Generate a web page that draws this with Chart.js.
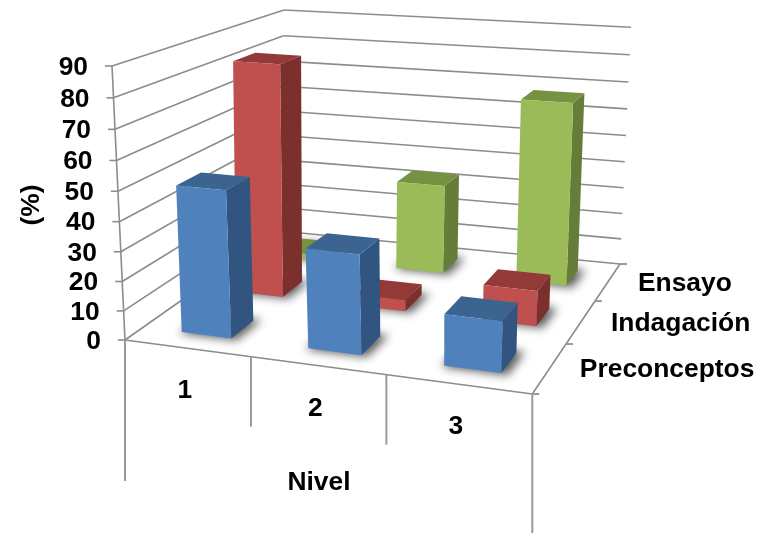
<!DOCTYPE html>
<html>
<head>
<meta charset="utf-8">
<title>Nivel por actividad</title>
<script src="https://cdn.jsdelivr.net/npm/chart.js@4/dist/chart.umd.js"></script>
<style>
  html, body { margin: 0; padding: 0; background: #fff; }
  canvas { display: block; }
</style>
</head>
<body>
<canvas id="chart" width="757" height="533"></canvas>
<script>
// Datos del gráfico
const niveles = ['1', '2', '3'];
const actividades = ['Preconceptos', 'Indagación', 'Ensayo'];
const preconceptos = [50, 33.5, 17];
const indagacion = [83, 4, 12.5];
const ensayo = [2, 33.5, 67.5];
const ticksValor = [0, 10, 20, 30, 40, 50, 60, 70, 80, 90];

// Colores por serie: frente, tapa, lado
const coloresSerie = [
    { frente: '#4f81bd', tapa: '#3c6491', lado: '#315480' },
    { frente: '#c0504d', tapa: '#933a38', lado: '#7b302e' },
    { frente: '#9bbb59', tapa: '#76913f', lado: '#667d3a' }
];

// Esquinas de la caja 3D: frente-izq, frente-der, fondo-der, fondo-izq
const esquinasPiso = [[125, 340], [532.3, 394], [620, 264], [280, 231]];
const esquinasTecho = [[112, 66], [541, 99], [631, 27.3], [284, 10]];
const fraccionBarra = 0.40;
const fraccionFondo = 0.41;
const corrimientoU = 0.006;

// Mapa de perspectiva del cuadrado unidad a un cuadrilátero
function mapaCuad(q) {
    const [[x0, y0], [x1, y1], [x2, y2], [x3, y3]] = q;
    const sx = x0 - x1 + x2 - x3, sy = y0 - y1 + y2 - y3;
    const dx1 = x1 - x2, dx2 = x3 - x2, dy1 = y1 - y2, dy2 = y3 - y2;
    const den = dx1 * dy2 - dx2 * dy1;
    const g = (sx * dy2 - dx2 * sy) / den;
    const h = (dx1 * sy - sx * dy1) / den;
    const a = x1 - x0 + g * x1, b = x3 - x0 + h * x3;
    const d = y1 - y0 + g * y1, e = y3 - y0 + h * y3;
    return (u, w) => {
        const k = g * u + h * w + 1;
        return [(a * u + b * w + x0) / k, (d * u + e * w + y0) / k];
    };
}

const piso = mapaCuad(esquinasPiso);
const techo = mapaCuad(esquinasTecho);

// u: a lo ancho, t: altura, w: profundidad (todas de 0 a 1)
function proyectar(u, t, w) {
    const p = piso(u, w), c = techo(u, w);
    const s = 0.95 * t / (1 - 0.05 * t);
    return [p[0] + (c[0] - p[0]) * s, p[1] + (c[1] - p[1]) * s];
}

function fraccion(scale, valor) {
    return scale.getDecimalForPixel(scale.getPixelForValue(valor));
}

function poligono(ctx, puntos, color) {
    ctx.beginPath();
    puntos.forEach((p, i) => i ? ctx.lineTo(p[0], p[1]) : ctx.moveTo(p[0], p[1]));
    ctx.closePath();
    ctx.fillStyle = color;
    ctx.fill();
}

function linea(ctx, a, b) {
    ctx.beginPath();
    ctx.moveTo(a[0], a[1]);
    ctx.lineTo(b[0], b[1]);
    ctx.stroke();
}

// Controlador de barras que dibuja cada valor como un prisma
class Barra3D extends Chart.BarController {
    draw() {
        const ctx = this.chart.ctx;
        const { x, y, z } = this.chart.scales;
        const indice = this.index;
        const colores = coloresSerie[indice];
        const wc = fraccion(z, actividades[indice]);
        const medioU = fraccionBarra / niveles.length / 2;
        const medioW = fraccionFondo / actividades.length / 2;

        for (let i = niveles.length - 1; i >= 0; i--) {
            const uc = fraccion(x, i) + corrimientoU;
            const t = fraccion(y, this.getParsed(i).y);
            const u0 = uc - medioU, u1 = uc + medioU;
            const w0 = wc - medioW, w1 = wc + medioW;

            // sombra difusa sobre el piso: la base queda fuera del lienzo y solo se ve su sombra
            const m = 0.01;
            const fuera = 2000;
            ctx.save();
            ctx.shadowColor = 'rgba(0,0,0,0.65)';
            ctx.shadowBlur = 10;
            ctx.shadowOffsetX = fuera + 3;
            ctx.translate(-fuera, 0);
            poligono(ctx, [proyectar(u0 - m, 0, w0 - m), proyectar(u1 + m, 0, w0 - m), proyectar(u1 + m, 0, w1 + m), proyectar(u0 - m, 0, w1 + m)], '#000');
            ctx.restore();

            poligono(ctx, [proyectar(u1, 0, w0), proyectar(u1, 0, w1), proyectar(u1, t, w1), proyectar(u1, t, w0)], colores.lado);
            poligono(ctx, [proyectar(u0, t, w0), proyectar(u1, t, w0), proyectar(u1, t, w1), proyectar(u0, t, w1)], colores.tapa);
            poligono(ctx, [proyectar(u0, 0, w0), proyectar(u1, 0, w0), proyectar(u1, t, w0), proyectar(u0, t, w0)], colores.frente);
        }
    }
}
Barra3D.id = 'barra3d';
Barra3D.defaults = Chart.BarController.defaults;
Barra3D.overrides = Chart.BarController.overrides;
Chart.register(Barra3D);

// Paredes, piso y ejes, por debajo de las barras
const cajaPlugin = {
    id: 'caja',
    beforeDatasetsDraw(chart) {
        const ctx = chart.ctx;
        const { y } = chart.scales;
        ctx.save();
        ctx.strokeStyle = '#8c8c8c';
        ctx.lineWidth = 1.6;

        ticksValor.forEach(v => {
            const t = fraccion(y, v);
            const izq = proyectar(0, t, 0);
            const fondoIzq = proyectar(0, t, 1);
            linea(ctx, izq, fondoIzq);
            linea(ctx, fondoIzq, proyectar(1, t, 1));
            linea(ctx, izq, [izq[0] - 7, izq[1]]);
        });

        // eje vertical y bordes del piso
        linea(ctx, proyectar(0, 0, 0), proyectar(0, 1, 0));
        linea(ctx, proyectar(0, 0, 0), proyectar(1, 0, 0));
        linea(ctx, proyectar(1, 0, 0), proyectar(1, 0, 1));

        ctx.strokeStyle = '#9a9a9a';
        ctx.lineWidth = 2;
        // divisiones entre niveles, bajo el borde frontal
        const frontera = [0, 1 / 3, 2 / 3, 1];
        const largo = [141, 70, 70, 141];
        frontera.forEach((u, i) => {
            const p = proyectar(u, 0, 0);
            linea(ctx, p, [p[0], p[1] + largo[i]]);
        });

        // marcas del eje de profundidad
        [0, 1 / 3, 2 / 3, 1].forEach(w => {
            const p = proyectar(1, 0, w);
            linea(ctx, p, [p[0] + 7, p[1]]);
        });
        ctx.restore();
    },
    afterDraw(chart) {
        const ctx = chart.ctx;
        const { x, y, z } = chart.scales;
        ctx.save();
        ctx.fillStyle = '#000';
        ctx.font = 'bold 26.4px "Liberation Sans", Arial, sans-serif';
        ctx.textBaseline = 'middle';

        // valores del eje vertical
        ctx.textAlign = 'right';
        ticksValor.forEach(v => {
            const p = proyectar(0, fraccion(y, v), 0);
            ctx.fillText(String(v), p[0] - 24, p[1] + 1.5);
        });

        // niveles
        ctx.textAlign = 'center';
        niveles.forEach((n, i) => {
            const p = proyectar(fraccion(x, i), 0, 0);
            ctx.fillText(n, p[0] - 2, p[1] + 43);
        });

        // actividades
        ctx.textAlign = 'left';
        actividades.forEach(a => {
            const p = proyectar(1, 0, fraccion(z, a));
            ctx.fillText(a, p[0] + 30, p[1] + 2);
        });

        // títulos de los ejes
        ctx.textAlign = 'center';
        ctx.fillText('Nivel', 319, 483);
        ctx.translate(30, 205);
        ctx.rotate(-Math.PI / 2);
        ctx.fillText('(%)', 0, 2);
        ctx.restore();
    }
};

new Chart(document.getElementById('chart'), {
    type: 'barra3d',
    data: {
        labels: niveles,
        datasets: [
            { label: actividades[0], data: preconceptos },
            { label: actividades[1], data: indagacion },
            { label: actividades[2], data: ensayo }
        ]
    },
    options: {
        responsive: false,
        animation: false,
        plugins: { legend: { display: false }, tooltip: { enabled: false } },
        scales: {
            x: { type: 'category', offset: true, display: false },
            y: { min: 0, max: 90, display: false },
            z: { type: 'category', axis: 'x', labels: actividades, offset: true, display: false }
        }
    },
    plugins: [cajaPlugin]
});
</script>
</body>
</html>
